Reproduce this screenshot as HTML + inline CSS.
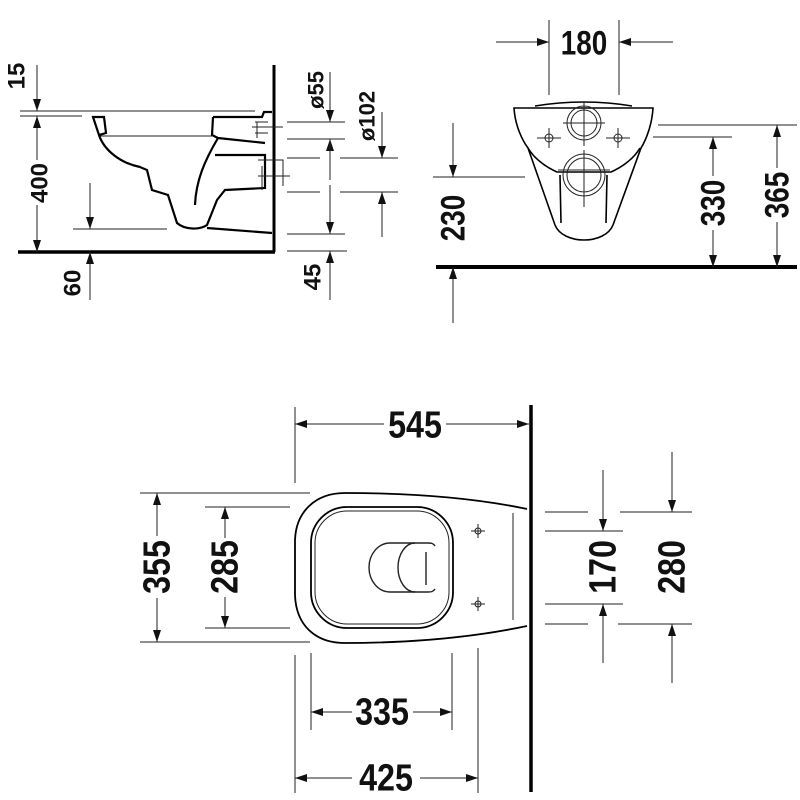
<!DOCTYPE html>
<html><head><meta charset="utf-8"><style>
html,body{margin:0;padding:0;background:#fff;}
svg{display:block;}
text{font-family:"Liberation Sans",sans-serif;font-weight:bold;fill:#111;}
</style></head><body>
<svg width="800" height="800" viewBox="0 0 800 800" xmlns="http://www.w3.org/2000/svg">
<defs>
<marker id="a" viewBox="0 0 12 8" refX="12" refY="4" markerWidth="12" markerHeight="8" markerUnits="userSpaceOnUse" orient="auto">
<path d="M0,0 L12,4 L0,8 Z" fill="#111"/></marker>
</defs>
<g stroke="#222" fill="none" stroke-width="1">
<line x1="18" y1="252" x2="275" y2="252" stroke="#000" stroke-width="3.5"/>
<line x1="274" y1="65" x2="274" y2="252" stroke="#000" stroke-width="3"/>
<line x1="20" y1="111" x2="255" y2="111"/>
<line x1="20" y1="116" x2="82" y2="116"/>
<line x1="37" y1="65" x2="37" y2="111" marker-end="url(#a)"/>
<line x1="37" y1="160" x2="37" y2="116" marker-end="url(#a)"/>
<line x1="37" y1="205" x2="37" y2="252" marker-end="url(#a)"/>
<line x1="73" y1="229" x2="167" y2="229"/>
<line x1="90" y1="183" x2="90" y2="229" marker-end="url(#a)"/>
<line x1="90" y1="300" x2="90" y2="252" marker-end="url(#a)"/>
<g stroke="#000" stroke-width="2.2">
<path d="M93,117 L104,117 L106,133 L99,135 Z"/>
<path d="M99,135 C104,150 120,163 140,167 L147,170 L152,190 L168,195 L177,223 C185,230 200,230 207,225 L217,200 L225,190 L265,188 L265,155 L215,155"/>
<path d="M195,205 C196,180 205,160 218,138"/>
<path d="M213,117 L212,135 L218,138 L265,143"/>
<path d="M213,117 L262,117 L264,112 L272,112"/>
<path d="M207,228 L272,233"/>
</g>
<line x1="100" y1="136" x2="213" y2="136"/>
<path d="M255,122 L268,122 M255,133 L268,133 M257,122 L257,138 M252,127 L283,127"/>
<path d="M258,160 L283,160 L283,186 M258,176 L290,176 M262,166 L262,190"/>
<line x1="287" y1="122" x2="345" y2="122"/>
<line x1="287" y1="139" x2="345" y2="139"/>
<line x1="287" y1="234" x2="345" y2="234"/>
<line x1="287" y1="251" x2="347" y2="251"/>
<path d="M287,158 L320,158 M340,158 L398,158 M287,192 L320,192 M340,192 L398,192"/>
<line x1="330" y1="72" x2="330" y2="122" marker-end="url(#a)"/>
<path d="M330,150 L330,139" marker-end="url(#a)"/>
<path d="M330,139 L330,180 M330,185 L330,234"/>
<path d="M330,200 L330,234" marker-end="url(#a)"/>
<line x1="330" y1="300" x2="330" y2="251" marker-end="url(#a)"/>
<line x1="382" y1="112" x2="382" y2="158" marker-end="url(#a)"/>
<line x1="382" y1="237" x2="382" y2="192" marker-end="url(#a)"/>

<line x1="549" y1="20" x2="549" y2="95"/>
<line x1="619" y1="20" x2="619" y2="95"/>
<line x1="496" y1="42" x2="549" y2="42" marker-end="url(#a)"/>
<line x1="673" y1="42" x2="619" y2="42" marker-end="url(#a)"/>
<line x1="436" y1="267" x2="797" y2="267" stroke="#000" stroke-width="4"/>
<g stroke="#000" stroke-width="1.6">
<path d="M514,108 L653,108 C652,125 646,140 641,148 L613,225 C605,245 563,245 555,225 L528,148 C522,140 515,125 514,108 Z"/>
<path d="M535,106 Q584,98 632,106"/>
<path d="M528,148 C535,160 548,168 557,172 L611,172 C620,168 633,160 640,148"/>
<path d="M560,175 L561,223 M607,175 L606,223"/>
</g>
<circle cx="584" cy="123" r="17"/><circle cx="584" cy="123" r="13"/>
<circle cx="584" cy="175" r="21"/><circle cx="584" cy="175" r="17"/>
<path d="M584,102 L584,146 M563,123 L605,123 M584,150 L584,207 M558,170 L610,170"/>
<circle cx="549" cy="138" r="4"/><path d="M537,138 L561,138 M549,128 L549,148"/>
<circle cx="618" cy="138" r="4"/><path d="M606,138 L630,138 M618,128 L618,148"/>
<line x1="433" y1="177" x2="525" y2="177"/>
<line x1="453" y1="123" x2="453" y2="177" marker-end="url(#a)"/>
<line x1="453" y1="323" x2="453" y2="267" marker-end="url(#a)"/>
<line x1="653" y1="137" x2="732" y2="137"/>
<line x1="658" y1="125" x2="797" y2="125"/>
<line x1="713" y1="176" x2="713" y2="137" marker-end="url(#a)"/>
<line x1="713" y1="230" x2="713" y2="267" marker-end="url(#a)"/>
<line x1="777" y1="168" x2="777" y2="125" marker-end="url(#a)"/>
<line x1="777" y1="222" x2="777" y2="267" marker-end="url(#a)"/>

<line x1="531" y1="405" x2="531" y2="792" stroke="#000" stroke-width="3.5"/>
<line x1="295" y1="407" x2="295" y2="483"/>
<line x1="384" y1="424" x2="295" y2="424" marker-end="url(#a)"/>
<line x1="446" y1="424" x2="529" y2="424" marker-end="url(#a)"/>
<g stroke="#000" stroke-width="1.8">
<path d="M527,509 C470,497 410,493 345,493 C315,493 296,512 295,540 L295,595 C296,625 315,643 345,643 C410,643 470,638 527,626"/>
<rect x="311" y="507" width="142" height="121" rx="36"/>
</g>
<rect x="315" y="511" width="134" height="113" rx="32"/>
<path d="M435,546 C433,543 431,543 428,543 L390,543 A21,24.5 0 0 0 390,592 L428,592 C431,592 433,592 435,589" stroke-width="1.4"/>
<path d="M415,543 A17,24.5 0 0 0 415,592" stroke-width="1.4"/>
<line x1="426" y1="552" x2="426" y2="585" stroke-width="1.4"/>
<line x1="513" y1="513" x2="513" y2="620"/>
<circle cx="478" cy="531" r="3"/><path d="M471,531 L485,531 M478,524 L478,538"/>
<circle cx="478" cy="604" r="3"/><path d="M471,604 L485,604 M478,597 L478,611"/>
<line x1="140" y1="493" x2="310" y2="493"/>
<line x1="140" y1="642" x2="310" y2="642"/>
<line x1="157" y1="536" x2="157" y2="493" marker-end="url(#a)"/>
<line x1="157" y1="598" x2="157" y2="642" marker-end="url(#a)"/>
<line x1="205" y1="507" x2="290" y2="507"/>
<line x1="205" y1="628" x2="290" y2="628"/>
<line x1="225" y1="538" x2="225" y2="507" marker-end="url(#a)"/>
<line x1="225" y1="597" x2="225" y2="628" marker-end="url(#a)"/>
<path d="M295,655 L295,793 M311,653 L311,730 M452,653 L452,730 M478,648 L478,793"/>
<line x1="352" y1="712" x2="311" y2="712" marker-end="url(#a)"/>
<line x1="413" y1="712" x2="452" y2="712" marker-end="url(#a)"/>
<line x1="352" y1="778" x2="295" y2="778" marker-end="url(#a)"/>
<line x1="420" y1="778" x2="478" y2="778" marker-end="url(#a)"/>
<path d="M545,512 L588,512 M545,531 L623,531 M545,604 L623,604 M545,624 L588,624"/>
<path d="M620,512 L692,512 M618,624 L692,624"/>
<line x1="603" y1="470" x2="603" y2="531" marker-end="url(#a)"/>
<line x1="603" y1="663" x2="603" y2="604" marker-end="url(#a)"/>
<line x1="672" y1="452" x2="672" y2="512" marker-end="url(#a)"/>
<line x1="672" y1="683" x2="672" y2="624" marker-end="url(#a)"/>
</g>
<g text-anchor="middle" dominant-baseline="central">
<text transform="translate(17,76) rotate(-90)" font-size="24">15</text>
<text transform="translate(40,183) rotate(-90)" font-size="24">400</text>
<text transform="translate(73,283) rotate(-90)" font-size="24">60</text>
<text transform="translate(316,90) rotate(-90)" font-size="22">ø55</text>
<text transform="translate(367,116) rotate(-90)" font-size="22">ø102</text>
<text transform="translate(313,277) rotate(-90)" font-size="24">45</text>
<text transform="translate(584,43) scale(0.82,1)" font-size="34">180</text>
<text transform="translate(453,218) rotate(-90) scale(0.82,1)" font-size="34">230</text>
<text transform="translate(713,203) rotate(-90) scale(0.82,1)" font-size="34">330</text>
<text transform="translate(777,195) rotate(-90) scale(0.82,1)" font-size="34">365</text>
<text transform="translate(415,425) scale(0.85,1)" font-size="38">545</text>
<text transform="translate(157,567) rotate(-90) scale(0.85,1)" font-size="38">355</text>
<text transform="translate(225,567) rotate(-90) scale(0.85,1)" font-size="38">285</text>
<text transform="translate(603,567) rotate(-90) scale(0.85,1)" font-size="38">170</text>
<text transform="translate(672,567) rotate(-90) scale(0.85,1)" font-size="38">280</text>
<text transform="translate(382,712) scale(0.85,1)" font-size="38">335</text>
<text transform="translate(386,778) scale(0.85,1)" font-size="38">425</text>
</g>
</svg>
</body></html>
